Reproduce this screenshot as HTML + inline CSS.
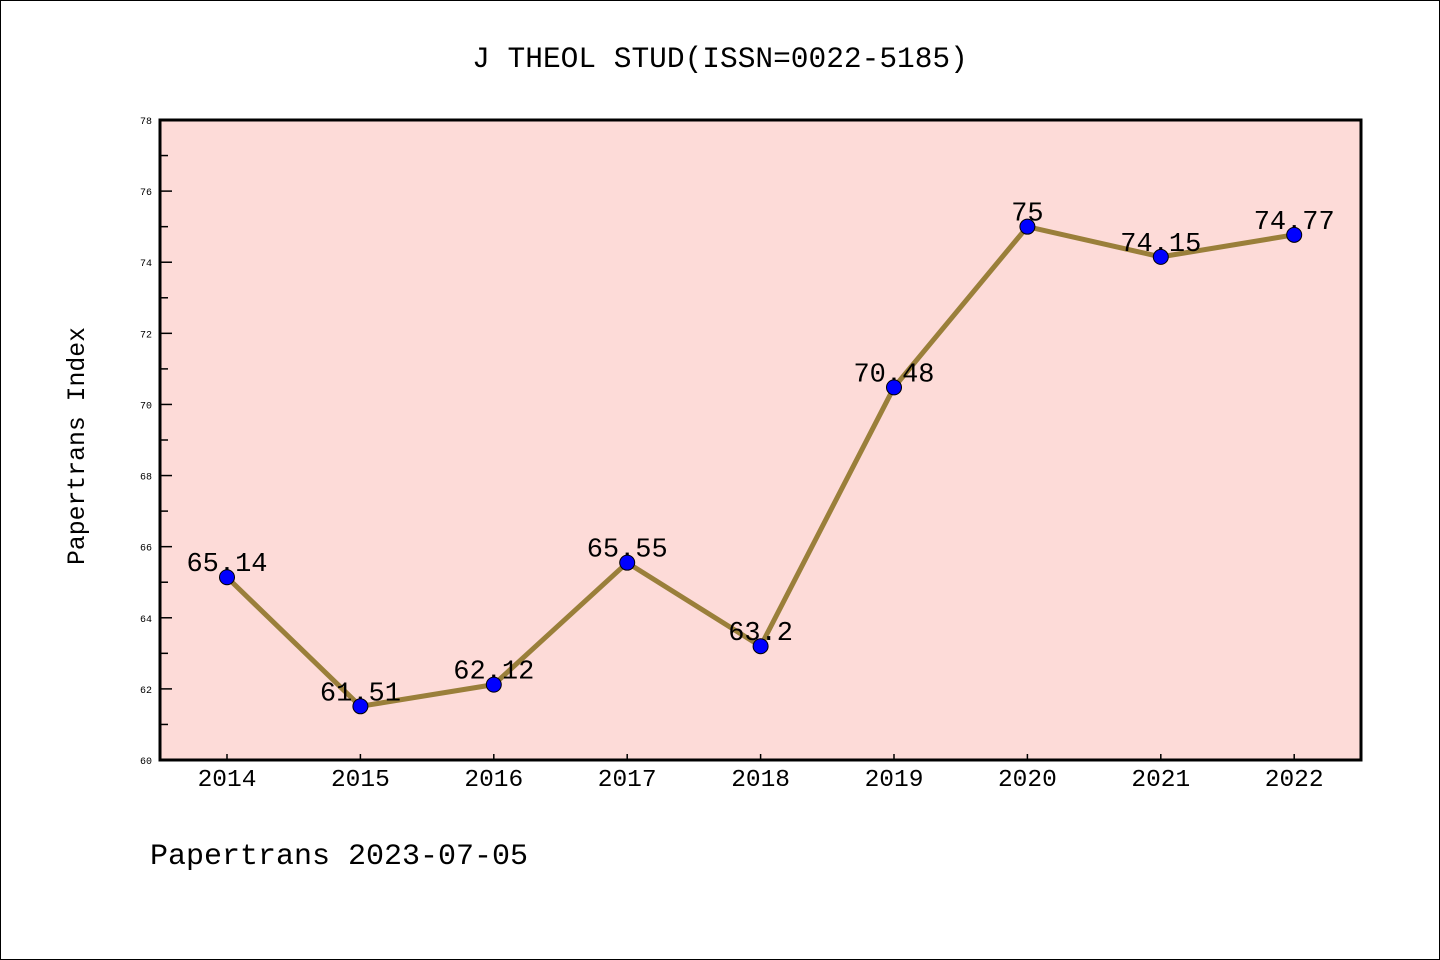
<!DOCTYPE html>
<html><head><meta charset="utf-8"><style>
body{margin:0;background:#fff}
svg{display:block}
text{font-family:"Liberation Mono","WenQuanYi Zen Hei",monospace}
</style></head><body>
<svg id="c" width="1440" height="960">
<rect x="0.5" y="0.5" width="1439" height="959" fill="#fff" stroke="#000"/>
<text x="720" y="67" font-size="29.5" text-anchor="middle">J THEOL STUD(ISSN=0022-5185)</text>
<text transform="translate(84,446) rotate(-90)" font-size="24.8" text-anchor="middle">Papertrans Index</text>
<text x="150" y="864" font-size="30">Papertrans 2023-07-05</text>
<rect x="160" y="120" width="1201" height="640" fill="#fddbd8"/>
<g id="g"></g>
<rect x="160" y="120" width="1201" height="640" fill="none" stroke="#000" stroke-width="3"/>
</svg>
<script>
const years=[2014,2015,2016,2017,2018,2019,2020,2021,2022];
const values=[65.14,61.51,62.12,65.55,63.2,70.48,75,74.15,74.77];
const labels=["65.14","61.51","62.12","65.55","63.2","70.48","75","74.15","74.77"];
const yTicks=[60,62,64,66,68,70,72,74,76,78];
const ns="http://www.w3.org/2000/svg",g=document.getElementById('g');
const X=i=>227+i*133.4, Y=v=>760-(v-60)*640/18;
function mk(t,a){const e=document.createElementNS(ns,t);for(const k in a)e.setAttribute(k,a[k]);g.appendChild(e);return e;}
yTicks.forEach(v=>{
 let l=mk('line',{x1:160,x2:172,y1:Y(v),y2:Y(v),stroke:'#000','stroke-width':1.5});
 
 
 let t=mk('text',{x:152,y:Y(v)+4,'font-size':10,'text-anchor':'end'});t.textContent=v;
 
 
 if(v<78){let m=mk('line',{x1:160,x2:168,y1:Y(v+1),y2:Y(v+1),stroke:'#000','stroke-width':1.5});
 
 }
});
years.forEach((yr,i)=>{
 let l=mk('line',{x1:X(i),x2:X(i),y1:760,y2:754,stroke:'#000','stroke-width':1.5});
 
 
 let t=mk('text',{x:X(i),y:786,'font-size':24.5,'text-anchor':'middle'});t.textContent=yr;
 
 
});
let p=mk('polyline',{points:values.map((v,i)=>X(i)+','+Y(v)).join(' '),fill:'none',stroke:'#9a7f3a','stroke-width':5,'stroke-linejoin':'round'});


values.forEach((v,i)=>{
 let t=mk('text',{x:X(i),y:Y(v)-6,'font-size':27,'text-anchor':'middle'});t.textContent=labels[i];
 
 
});
values.forEach((v,i)=>{
 let c=mk('circle',{cx:X(i),cy:Y(v),r:7.5,fill:'#0000ff',stroke:'#000','stroke-width':1});
 
 
});
</script>
</body></html>
